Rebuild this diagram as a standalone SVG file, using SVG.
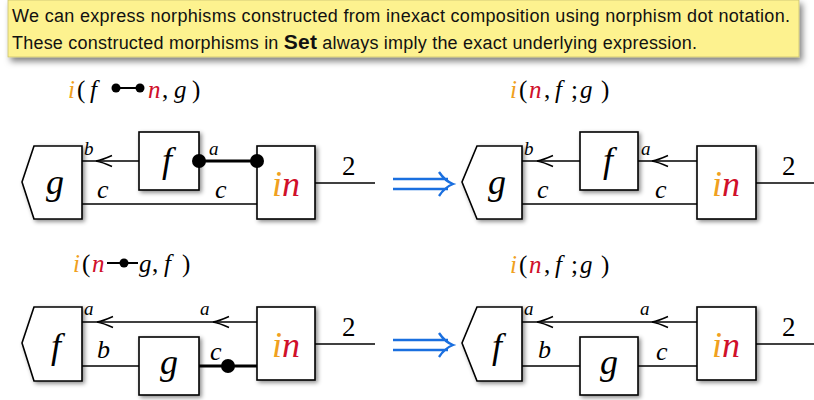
<svg xmlns="http://www.w3.org/2000/svg" xmlns:xlink="http://www.w3.org/1999/xlink" width="814" height="400" viewBox="0 0 814 400">
<style>
.box{fill:#fff;stroke:#000;stroke-width:1.6;filter:url(#sh)}
.w{fill:none;stroke:#000;stroke-width:1.4}
.tw{fill:none;stroke:#000;stroke-width:3}
.chev{fill:none;stroke:#000;stroke-width:1.4}
.up{font-style:normal}
.o{fill:#f0a020}
.r{fill:#d0102a}
.title{font-family:'Liberation Sans','DejaVu Sans',sans-serif;font-size:18px;fill:#111}
.dbl{fill:none;stroke:#1a6fdf;stroke-width:2.4}
</style>
<defs>
<filter id="sh" x="-20%" y="-20%" width="150%" height="150%">
<feDropShadow dx="2" dy="2" stdDeviation="2" flood-color="#000" flood-opacity="0.45"/>
</filter>
<filter id="sh2" x="-5%" y="-20%" width="110%" height="150%">
<feDropShadow dx="3" dy="4" stdDeviation="3" flood-color="#000" flood-opacity="0.5"/>
</filter>
<path id="chev" class="chev" d="M16,-5.5 Q6,-1 0,0 Q6,1 16,5.5"/>
<path id="dbl" class="dbl" d="M0,-5 H55 M0,5 H55 M46,-12 Q52,-3 60,0 Q52,3 46,12"/>
</defs>

<g id="title">
<rect x="8" y="0" width="791" height="57" fill="#fdf28f" stroke="#c8c070" stroke-width="0.8" filter="url(#sh2)"/>
<text class="title" x="12" y="22" textLength="778" lengthAdjust="spacing">We can express norphisms constructed from inexact composition using norphism dot notation.</text>
<text class="title" x="12" y="49" textLength="685" lengthAdjust="spacing">These constructed morphisms in <tspan font-weight="bold" font-size="21">Set</tspan> always imply the exact underlying expression.</text>
</g>

<g font-family="Liberation Serif, DejaVu Serif, serif" font-style="italic" fill="#000">

<!-- Top-left diagram -->
<g id="formula-tl">
<text font-size="25" y="98"><tspan class="o" x="68">i</tspan><tspan class="up" x="77">(</tspan><tspan x="90">f</tspan><tspan class="r" x="148">n</tspan><tspan class="up" x="162">,</tspan><tspan x="174">g</tspan><tspan class="up" x="192">)</tspan></text>
<line x1="116" y1="88" x2="140" y2="88" stroke="#000" stroke-width="2"/>
<circle cx="116" cy="88" r="4.5"/>
<circle cx="140" cy="88" r="4.5"/>
</g>
<g id="connectors-tl">
<line class="w" x1="82" y1="161" x2="139" y2="161"/>
<use xlink:href="#chev" x="96" y="161"/>
<line class="w" x1="82" y1="204" x2="257" y2="204"/>
<line class="tw" x1="199" y1="161" x2="257" y2="161"/>
<line class="w" x1="315" y1="183" x2="375" y2="183"/>
<text font-size="19" x="84" y="155">b</text>
<text font-size="26" x="97" y="198">c</text>
<text font-size="19" x="209" y="155">a</text>
<text font-size="26" x="215" y="198">c</text>
<text font-size="27" font-style="normal" x="342" y="175">2</text>
</g>
<g id="g-tl">
<path class="box" d="M34,146 H82 V219 H34 L22,182 Z"/>
<text font-size="36" x="55" y="194" text-anchor="middle">g</text>
</g>
<g id="f-tl">
<rect class="box" x="139" y="132" width="60" height="58"/>
<text font-size="36" x="167" y="172" text-anchor="middle">f</text>
</g>
<g id="in-tl">
<rect class="box" x="257" y="146" width="58" height="73"/>
<text font-size="36" x="286" y="196" text-anchor="middle"><tspan class="o">i</tspan><tspan class="r">n</tspan></text>
</g>
<g id="dots-tl">
<circle cx="199" cy="161" r="7"/>
<circle cx="257" cy="161" r="7"/>
</g>

<!-- Top-right diagram -->
<g id="formula-tr">
<text font-size="25" y="98"><tspan class="o" x="510">i</tspan><tspan class="up" x="519">(</tspan><tspan class="r" x="529">n</tspan><tspan class="up" x="544">,</tspan><tspan x="555">f</tspan><tspan class="up" x="571">;</tspan><tspan x="580">g</tspan><tspan class="up" x="601">)</tspan></text>
</g>
<g id="connectors-tr">
<line class="w" x1="522" y1="161" x2="580" y2="161"/>
<use xlink:href="#chev" x="537" y="161"/>
<line class="w" x1="638" y1="161" x2="697" y2="161"/>
<use xlink:href="#chev" x="652" y="161"/>
<line class="w" x1="522" y1="204" x2="697" y2="204"/>
<line class="w" x1="756" y1="183" x2="814" y2="183"/>
<text font-size="19" x="524" y="155">b</text>
<text font-size="26" x="537" y="198">c</text>
<text font-size="19" x="641" y="155">a</text>
<text font-size="26" x="655" y="198">c</text>
<text font-size="27" font-style="normal" x="782" y="175">2</text>
</g>
<g id="g-tr">
<path class="box" d="M477,146 H522 V219 H477 L462,182 Z"/>
<text font-size="36" x="497" y="194" text-anchor="middle">g</text>
</g>
<g id="f-tr">
<rect class="box" x="580" y="132" width="58" height="58"/>
<text font-size="36" x="608" y="172" text-anchor="middle">f</text>
</g>
<g id="in-tr">
<rect class="box" x="697" y="146" width="59" height="73"/>
<text font-size="36" x="726" y="196" text-anchor="middle"><tspan class="o">i</tspan><tspan class="r">n</tspan></text>
</g>

<!-- Bottom-left diagram -->
<g id="formula-bl">
<text font-size="25" y="272"><tspan class="o" x="73">i</tspan><tspan class="up" x="82">(</tspan><tspan class="r" x="92">n</tspan><tspan x="139">g</tspan><tspan class="up" x="152">,</tspan><tspan x="164">f</tspan><tspan class="up" x="182">)</tspan></text>
<line x1="107" y1="263" x2="138" y2="263" stroke="#000" stroke-width="2"/>
<circle cx="124" cy="263" r="4.5"/>
</g>
<g id="connectors-bl">
<line class="w" x1="82" y1="322" x2="257" y2="322"/>
<use xlink:href="#chev" x="97" y="322"/>
<use xlink:href="#chev" x="213" y="322"/>
<line class="w" x1="82" y1="366" x2="139" y2="366"/>
<line class="tw" x1="199" y1="366" x2="257" y2="366"/>
<line class="w" x1="315" y1="344" x2="375" y2="344"/>
<text font-size="19" x="84" y="315">a</text>
<text font-size="19" x="200" y="315">a</text>
<text font-size="26" x="97" y="358">b</text>
<text font-size="26" x="210" y="360">c</text>
<text font-size="27" font-style="normal" x="342" y="336">2</text>
</g>
<g id="f-bl">
<path class="box" d="M34,307 H82 V381 H34 L22,343 Z"/>
<text font-size="36" x="56" y="358" text-anchor="middle">f</text>
</g>
<g id="g-bl">
<rect class="box" x="139" y="337" width="60" height="58"/>
<text font-size="36" x="169" y="374" text-anchor="middle">g</text>
</g>
<g id="in-bl">
<rect class="box" x="257" y="307" width="58" height="73"/>
<text font-size="36" x="286" y="357" text-anchor="middle"><tspan class="o">i</tspan><tspan class="r">n</tspan></text>
</g>
<g id="dots-bl"><circle cx="228" cy="366" r="7"/></g>

<!-- Bottom-right diagram -->
<g id="formula-br">
<text font-size="25" y="273"><tspan class="o" x="510">i</tspan><tspan class="up" x="519">(</tspan><tspan class="r" x="529">n</tspan><tspan class="up" x="544">,</tspan><tspan x="555">f</tspan><tspan class="up" x="571">;</tspan><tspan x="580">g</tspan><tspan class="up" x="601">)</tspan></text>
</g>
<g id="connectors-br">
<line class="w" x1="522" y1="322" x2="697" y2="322"/>
<use xlink:href="#chev" x="537" y="322"/>
<use xlink:href="#chev" x="652" y="322"/>
<line class="w" x1="522" y1="366" x2="580" y2="366"/>
<line class="w" x1="638" y1="366" x2="697" y2="366"/>
<line class="w" x1="756" y1="344" x2="814" y2="344"/>
<text font-size="19" x="524" y="315">a</text>
<text font-size="19" x="640" y="315">a</text>
<text font-size="26" x="538" y="358">b</text>
<text font-size="26" x="656" y="360">c</text>
<text font-size="27" font-style="normal" x="782" y="336">2</text>
</g>
<g id="f-br">
<path class="box" d="M477,307 H522 V381 H477 L462,343 Z"/>
<text font-size="36" x="497" y="358" text-anchor="middle">f</text>
</g>
<g id="g-br">
<rect class="box" x="580" y="337" width="58" height="58"/>
<text font-size="36" x="609" y="374" text-anchor="middle">g</text>
</g>
<g id="in-br">
<rect class="box" x="697" y="307" width="59" height="73"/>
<text font-size="36" x="726" y="357" text-anchor="middle"><tspan class="o">i</tspan><tspan class="r">n</tspan></text>
</g>
</g>

<g id="arrow-top"><use xlink:href="#dbl" x="393" y="184"/></g>
<g id="arrow-bottom"><use xlink:href="#dbl" x="393" y="345"/></g>
</svg>
